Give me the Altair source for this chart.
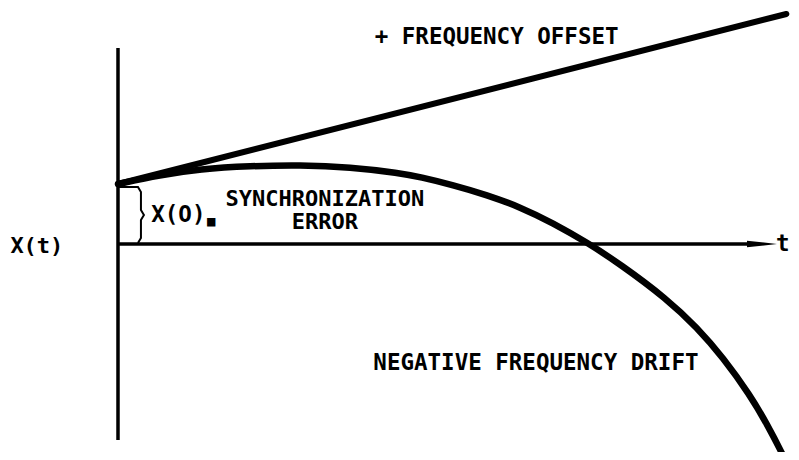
import altair as alt
import pandas as pd

# ---- data (t in arbitrary time units, X in arbitrary error units) ----
drift_t = [0.000, 0.632, 1.233, 1.985, 2.737, 3.489, 4.241, 4.541, 5.038, 5.549,
           6.045, 6.541, 7.053, 7.549, 8.256, 8.707, 9.098, 9.504, 9.759,
           10.000, 10.105]
drift_x = [3.00, 3.45, 3.75, 3.90, 3.95, 3.85, 3.55, 3.35, 2.95, 2.45,
           1.85, 1.05, 0.075, -1.00, -2.75, -4.175, -5.675, -7.55, -9.00,
           -10.55, -11.30]

offset_t = [0.0, 10.05]
offset_x = [3.0, 11.5]

vaxis_t = [0.0, 0.0]
vaxis_x = [-9.8, 9.8]
haxis_t = [0.0, 9.5]
haxis_x = [0.0, 0.0]
arrow_t = [9.684]
arrow_x = [0.0]

brace_t = [0.0, 0.30, 0.345, 0.345, 0.39, 0.345, 0.345, 0.30]
brace_x = [2.85, 2.85, 2.6, 1.7, 1.45, 1.2, 0.3, 0.05]

left_labels = ["+ FREQUENCY OFFSET", "NEGATIVE FREQUENCY DRIFT", "X(O)"]
left_t = [3.86, 3.84, 0.50]
left_x = [10.35, -5.95, 1.45]

center_labels = ["SYNCHRONIZATION\nERROR", "X(t)"]
center_t = [3.11, -1.22]
center_x = [2.25, -0.1]

axis_label = ["t"]
axis_label_t = [10.10]
axis_label_x = [0.0]

eq_label = ["■"]
eq_t = [1.40]
eq_x = [1.12]

xs = alt.Scale(domain=[-1.654, 10.12], nice=False, zero=False)
ys = alt.Scale(domain=[-10.4, 11.8], nice=False, zero=False)


def enc(**kw):
    return dict(
        x=alt.X("t:Q", scale=xs, axis=None),
        y=alt.Y("X:Q", scale=ys, axis=None),
        **kw,
    )


drift = alt.Chart(pd.DataFrame({"t": drift_t, "X": drift_x})).mark_line(
    color="black", strokeWidth=6.5, interpolate="basis", strokeCap="round"
).encode(**enc())

offset = alt.Chart(pd.DataFrame({"t": offset_t, "X": offset_x})).mark_line(
    color="black", strokeWidth=6, strokeCap="round"
).encode(**enc())

vaxis = alt.Chart(pd.DataFrame({"t": vaxis_t, "X": vaxis_x})).mark_line(
    color="black", strokeWidth=3.5
).encode(**enc())

haxis = alt.Chart(pd.DataFrame({"t": haxis_t, "X": haxis_x})).mark_line(
    color="black", strokeWidth=3.5
).encode(**enc())

arrow = alt.Chart(pd.DataFrame({"t": arrow_t, "X": arrow_x})).mark_point(
    shape="M-1,-0.22L1,0L-1,0.22Z", size=900, filled=True, color="black", opacity=1
).encode(**enc())

brace = alt.Chart(pd.DataFrame({"t": brace_t, "X": brace_x, "i": list(range(len(brace_t)))})).mark_line(
    color="black", strokeWidth=2, interpolate="linear"
).encode(**enc(order="i:Q"))

font = "DejaVu Sans Mono"

text_left = alt.Chart(pd.DataFrame({"t": left_t, "X": left_x, "label": left_labels})).mark_text(
    font=font, fontSize=22.5, fontWeight="bold", align="left", baseline="middle", color="black"
).encode(**enc(text="label:N"))

text_center = alt.Chart(pd.DataFrame({"t": center_t, "X": center_x, "label": center_labels})).mark_text(
    font=font, fontSize=22, fontWeight="bold", align="center", baseline="middle", color="black",
    lineBreak="\n", lineHeight=22.5
).encode(**enc(text="label:N"))

text_axis = alt.Chart(pd.DataFrame({"t": axis_label_t, "X": axis_label_x, "label": axis_label})).mark_text(
    font=font, fontSize=22.5, fontWeight="bold", align="right", baseline="middle", color="black"
).encode(**enc(text="label:N"))

text_eq = alt.Chart(pd.DataFrame({"t": eq_t, "X": eq_x, "label": eq_label})).mark_text(
    font=font, fontSize=14, fontWeight="bold", align="center", baseline="middle", color="black"
).encode(**enc(text="label:N"))

chart = alt.layer(
    vaxis, haxis, arrow, brace, offset, drift, text_left, text_center, text_axis, text_eq
).properties(
    width=783, height=444, autosize=alt.AutoSizeParams(type="none"), padding=0,
    background="white",
).configure_view(strokeWidth=0)

chart.save("out.html", embed_options={"renderer": "svg", "actions": False})
